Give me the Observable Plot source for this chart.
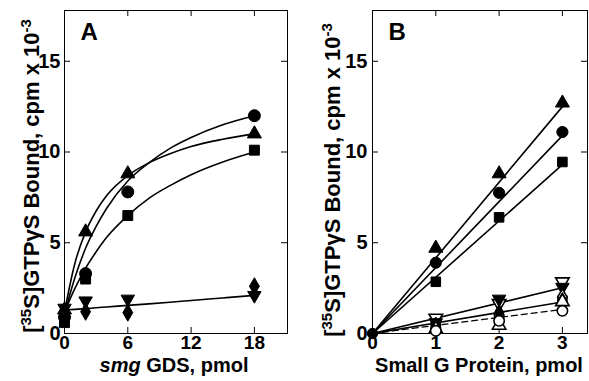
<!DOCTYPE html>
<html>
<head>
<meta charset="utf-8">
<script src="https://cdn.jsdelivr.net/npm/d3@7"></script>
<script src="https://cdn.jsdelivr.net/npm/@observablehq/plot@0.6"></script>
<style>
  html, body { margin: 0; padding: 0; background: #fff; }
  #wrap { position: relative; width: 589px; height: 381px; overflow: hidden; background: #fff; }
  #wrap svg { position: absolute; top: 0; }
</style>
</head>
<body>
<div id="wrap"></div>
<script>
// ---------- Panel A data: smg GDS, pmol ----------
const gdsX = [0, 2, 6, 18];
const aCircle = [0.9, 3.3, 7.8, 12.0];
const aTriUp = [1.3, 5.6, 8.8, 11.0];
const aSquare = [0.6, 3.0, 6.5, 10.1];
const aTriDown = [1.4, 1.8, 1.9, 2.1];
const aDiamond = [1.0, 1.2, 1.15, 2.6];

// fitted curves
const curveAX = [0, 1, 2, 3, 4, 6, 8, 10, 12, 15, 18];
const curveACircle = [1.1, 3.1, 4.7, 5.9, 6.9, 8.4, 9.4, 10.2, 10.8, 11.5, 12.0];
const curveATri = [1.2, 3.9, 5.6, 6.75, 7.6, 8.7, 9.4, 9.9, 10.3, 10.7, 11.0];
const curveASquare = [1.2, 2.5, 3.6, 4.5, 5.3, 6.5, 7.45, 8.15, 8.75, 9.45, 10.0];
const curveALow = [1.3, 1.33, 1.37, 1.42, 1.46, 1.55, 1.63, 1.72, 1.82, 1.96, 2.1];

// ---------- Panel B data: Small G Protein, pmol ----------
const protX = [0, 1, 2, 3];
const bTriUp = [0, 4.7, 8.8, 12.7];
const bCircle = [0, 3.9, 7.75, 11.1];
const bSquare = [0, 2.85, 6.4, 9.45];
const bTriDown = [0, 0.6, 1.9, 2.55];
const bTriDownOpen = [0, 0.85, 1.65, 2.85];
const bDiamond = [0, 0.45, 1.15, 1.8];
const bDiamondOpen = [0, 0.3, 1.0, 2.0];
const bTriUpOpen = [0, 0.25, 0.45, 1.75];
const bSquareOpen = [0, 0.35, 0.8, 1.8];
const bCircleOpen = [0, 0.15, 0.7, 1.25];

// fitted straight lines from origin (end values at x = 3)
const lineBX = [0, 3];
const lineBTri = [0, 12.5];
const lineBCircle = [0, 10.9];
const lineBSquare = [0, 9.3];
const lineBTriDown = [0, 2.52];
const lineBMid = [0, 1.74];
const lineBDashed = [0, 1.33];

const yTicks = [0, 5, 10, 15];
const xTicksA = [0, 6, 12, 18];
const xTicksB = [0, 1, 2, 3];

const FONT = "'Liberation Sans', Arial, Helvetica, sans-serif";

function pts(xs, ys) { return xs.map((x, i) => ({x, y: ys[i]})); }

function framedPanel({width, left, mL, mR, mT, mB, xDomain, xTicks, letter, marks, xLabelParts, xLabelX, yLabelX, yLabelY, yPad}) {
  const height = 381;
  const plotW = width - mL - mR;
  const plotH = height - mT - mB;
  const tickLen = 6;
  const innerX = xTicks.filter(d => d > 0);
  const innerY = yTicks.filter(d => d > 0);
  const svg = Plot.plot({
    width, height,
    marginLeft: mL, marginRight: mR, marginTop: mT, marginBottom: mB,
    x: {domain: xDomain, axis: null},
    y: {domain: [0, (height - mT - mB) / 18.15], axis: null},
    style: {fontFamily: FONT, background: "transparent", color: "#000", overflow: "visible"},
    marks: [
      Plot.frame({stroke: "#000", strokeWidth: 1}),
      Plot.tickY(innerY, {y: d => d, insetRight: plotW - tickLen, stroke: "#000"}),
      Plot.tickY(innerY, {y: d => d, insetLeft: plotW - tickLen, stroke: "#000"}),
      Plot.tickX(innerX, {x: d => d, insetTop: plotH - tickLen, stroke: "#000"}),
      Plot.tickX(innerX, {x: d => d, insetBottom: plotH - tickLen, stroke: "#000"}),
      Plot.axisX({ticks: xTicks, tickSize: 0, tickPadding: 2, label: null, fontSize: 19, fontWeight: "bold", tickFormat: d => String(d)}),
      Plot.axisY({ticks: yTicks, tickSize: 0, tickPadding: yPad, label: null, fontSize: 20, fontWeight: "bold", tickFormat: d => String(d)}),
      Plot.text([letter], {frameAnchor: "top-left", dx: 16, dy: 12, lineAnchor: "top", fontSize: 24, fontWeight: "bold", fill: "#000"}),
      ...marks
    ]
  });
  svg.style.left = left + "px";
  const s = d3.select(svg);
  // x-axis title
  const xt = s.append("text")
    .attr("x", xLabelX).attr("y", 372)
    .attr("text-anchor", "middle")
    .attr("font-family", FONT).attr("font-size", 20).attr("font-weight", "bold").attr("fill", "#000");
  xLabelParts.forEach(p => xt.append("tspan").attr("font-style", p.italic ? "italic" : null).text(p.t));
  // y-axis title with superscripts
  const yt = s.append("text")
    .attr("transform", `translate(${yLabelX},${yLabelY}) rotate(-90)`)
    .attr("text-anchor", "middle")
    .attr("font-family", FONT).attr("font-size", 22).attr("font-weight", "bold").attr("fill", "#000");
  yt.append("tspan").text("[");
  yt.append("tspan").attr("font-size", 15).attr("dy", -8).text("35");
  yt.append("tspan").attr("dy", 8).text("S]GTPγS Bound, cpm x 10");
  yt.append("tspan").attr("font-size", 15).attr("dy", -8).text("-3");
  document.getElementById("wrap").appendChild(svg);
}

const dotStyle = {stroke: "#000", strokeWidth: 1};
function filled(xs, ys, symbol, r, extra = {}) {
  return Plot.dot(pts(xs, ys), {x: "x", y: "y", symbol, r, fill: "#000", ...dotStyle, ...extra});
}
function open(xs, ys, symbol, r, extra = {}) {
  return Plot.dot(pts(xs, ys), {x: "x", y: "y", symbol, r, fill: "#fff", stroke: "#000", strokeWidth: 1.6, ...extra});
}
function curve(xs, ys, extra = {}) {
  return Plot.line(pts(xs, ys), {x: "x", y: "y", curve: "monotone-x", stroke: "#000", strokeWidth: 1.6, ...extra});
}

// Panel A
framedPanel({
  width: 295, left: 0, mL: 64, mR: 8, mT: 10, mB: 48,
  xDomain: [0, (295 - 64 - 8) / 10.55],
  xTicks: xTicksA, letter: "A",
  xLabelParts: [{t: "smg", italic: true}, {t: " GDS, pmol"}],
  xLabelX: 174, yLabelX: 39, yLabelY: 176, yPad: 4,
  marks: [
    curve(curveAX, curveACircle),
    curve(curveAX, curveATri),
    curve(curveAX, curveASquare),
    curve(curveAX, curveALow),
    filled(gdsX, aDiamond, "diamond", 5.2),
    filled(gdsX, aTriDown, "triangle", 5, {rotate: 180}),
    filled(gdsX, aSquare, "square", 5.6),
    filled(gdsX, aCircle, "circle", 6),
    filled(gdsX, aTriUp, "triangle", 5.2)
  ]
});

// Panel B
framedPanel({
  width: 299, left: 290, mL: 82, mR: 2, mT: 10, mB: 48,
  xDomain: [0, (299 - 82 - 2) / 63.3],
  xTicks: xTicksB, letter: "B",
  xLabelParts: [{t: "Small G Protein, pmol"}],
  xLabelX: 189, yLabelX: 50, yLabelY: 180, yPad: 5,
  marks: [
    curve(lineBX, lineBTri, {curve: "linear"}),
    curve(lineBX, lineBCircle, {curve: "linear"}),
    curve(lineBX, lineBSquare, {curve: "linear"}),
    curve(lineBX, lineBTriDown, {curve: "linear"}),
    curve(lineBX, lineBMid, {curve: "linear"}),
    curve(lineBX, lineBDashed, {curve: "linear", strokeDasharray: "6,4", strokeWidth: 1.3}),
    open(protX.slice(1), bTriDownOpen.slice(1), "triangle", 5, {rotate: 180}),
    filled(protX.slice(1), bTriDown.slice(1), "triangle", 5, {rotate: 180}),
    open(protX.slice(1), bSquareOpen.slice(1), "square", 5),
    open(protX.slice(1), bDiamondOpen.slice(1), "diamond", 5),
    filled(protX.slice(1), bDiamond.slice(1), "diamond", 5),
    open(protX.slice(1), bTriUpOpen.slice(1), "triangle", 5),
    open(protX.slice(1), bCircleOpen.slice(1), "circle", 5.2),
    filled(protX.slice(1), bSquare.slice(1), "square", 5.4),
    filled(protX.slice(1), bCircle.slice(1), "circle", 5.6),
    filled(protX.slice(1), bTriUp.slice(1), "triangle", 5.2),
    filled([0], [0], "circle", 5.2)
  ]
});
</script>
</body>
</html>
